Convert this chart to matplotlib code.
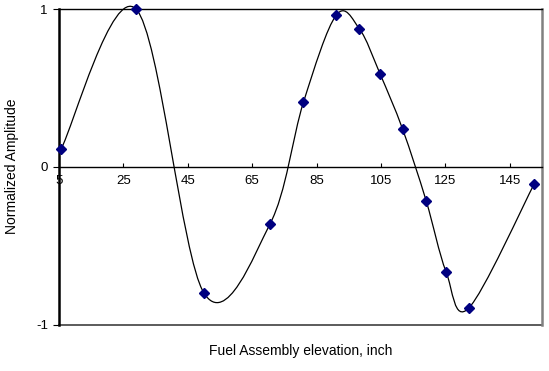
import numpy as np
import matplotlib
matplotlib.use("Agg")
import matplotlib.pyplot as plt
from matplotlib.path import Path
from matplotlib.patches import PathPatch

plt.rcParams['font.family'] = ['Liberation Sans', 'DejaVu Sans']
plt.rcParams['axes.unicode_minus'] = False

# measured points along the assembly
elevation = [5.6, 28.9, 50.0, 70.5, 80.9, 91.1, 98.3, 104.7, 111.7, 119.0, 125.2, 132.2, 152.6]
amplitude = [0.11, 1.0, -0.80, -0.364, 0.408, 0.961, 0.874, 0.589, 0.239, -0.214, -0.665, -0.897, -0.108]

x_ticks = [5, 25, 45, 65, 85, 105, 125, 145]
y_ticks = [-1, 0, 1]


def smooth_path(xs, ys):
    # piecewise cubic bezier through every point (catmull-rom style tangents)
    p = np.column_stack([xs, ys])
    n = len(p)
    verts = [p[0]]
    codes = [Path.MOVETO]
    for i in range(n - 1):
        prev = p[i - 1] if i > 0 else p[i]
        nxt = p[i + 2] if i + 2 < n else p[i + 1]
        c1 = p[i] + (p[i + 1] - prev) / 6
        c2 = p[i + 1] - (nxt - p[i]) / 6
        verts += [c1, c2, p[i + 1]]
        codes += [Path.CURVE4] * 3
    return Path(np.array(verts), codes)


fig = plt.figure(figsize=(5.49, 3.71), dpi=100)
ax = fig.add_axes([59 / 549, 1 - 324.5 / 371, (542 - 59) / 549, (324.5 - 9) / 371])

ax.add_patch(PathPatch(smooth_path(elevation, amplitude), fill=False,
                       edgecolor='black', lw=0.9, clip_on=False, zorder=3))
ax.plot(elevation, amplitude, 'D', color='#000080', markersize=5, zorder=4, clip_on=False)

ax.set_xlim(5, 155)
ax.set_ylim(-1, 1)
ax.set_xticks(x_ticks)
ax.set_yticks(y_ticks)

ax.spines['bottom'].set_position(('data', 0))
ax.spines['bottom'].set_linewidth(1.0)
ax.spines['left'].set_linewidth(1.8)
ax.spines['top'].set_linewidth(1.0)
ax.spines['right'].set_color('#808080')
ax.spines['right'].set_linewidth(1.8)
# lower frame edge of the plot area
ax.plot([0, 1], [0, 0], transform=ax.transAxes, color='#404040', lw=1.2, clip_on=False)

ax.tick_params(axis='x', direction='in', length=3, width=0.8, labelsize=9.5, pad=6)
ax.tick_params(axis='y', direction='out', length=4, width=0.8, labelsize=9.5, pad=4)

ax.set_xlabel('Fuel Assembly elevation, inch', fontsize=10)
ax.xaxis.set_label_coords(0.5, -0.062)
ax.set_ylabel('Normalized Amplitude', fontsize=10)
ax.yaxis.set_label_coords(-0.083, 0.5)

fig.savefig('out.png', dpi=100)
